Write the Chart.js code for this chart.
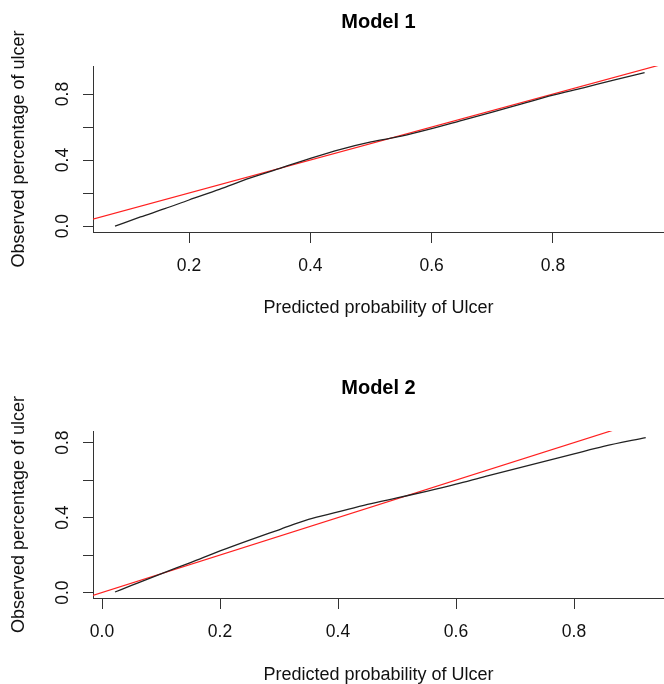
<!DOCTYPE html>
<html><head><meta charset="utf-8">
<script src="https://cdn.jsdelivr.net/npm/chart.js@4.4.0/dist/chart.umd.min.js"></script>
<style>html,body{margin:0;padding:0;background:#fff;overflow:hidden}canvas{display:block}</style>
</head><body>
<canvas id="c1" width="664" height="342"></canvas>
<canvas id="c2" width="664" height="342"></canvas>
<script>
// ---- data ----
const model1PredX = [0.078, 0.12, 0.16, 0.2, 0.25, 0.3, 0.35, 0.4, 0.45, 0.5, 0.55, 0.6, 0.65, 0.7, 0.75, 0.8, 0.85, 0.9, 0.951];
const model1ObsY  = [0.0, 0.055, 0.105, 0.158, 0.222, 0.29, 0.35, 0.41, 0.465, 0.51, 0.545, 0.59, 0.64, 0.69, 0.742, 0.793, 0.838, 0.885, 0.93];
const model2PredX = [0.022, 0.05, 0.1, 0.15, 0.2, 0.25, 0.3, 0.35, 0.4, 0.45, 0.5, 0.55, 0.6, 0.65, 0.7, 0.75, 0.8, 0.85, 0.9215];
const model2ObsY  = [0.003, 0.038, 0.1, 0.16, 0.222, 0.28, 0.335, 0.39, 0.43, 0.47, 0.505, 0.54, 0.578, 0.62, 0.66, 0.70, 0.74, 0.78, 0.827];
const refLineX = [-0.1, 1.1];   // ideal calibration line y = x
const refLineY = [-0.1, 1.1];
const model1XTicks = [0.2, 0.4, 0.6, 0.8];
const model1XTickLabels = ['0.2', '0.4', '0.6', '0.8'];
const model2XTicks = [0.0, 0.2, 0.4, 0.6, 0.8];
const model2XTickLabels = ['0.0', '0.2', '0.4', '0.6', '0.8'];
const yTicks = [0.0, 0.2, 0.4, 0.6, 0.8];
const yTickLabels = ['0.0', '', '0.4', '', '0.8'];
const chartTitles = ['Model 1', 'Model 2'];
const xAxisTitle = 'Predicted probability of Ulcer';
const yAxisTitle = 'Observed percentage of ulcer';

const FONT = "'Liberation Sans', Arial, sans-serif";
const AXIS_COLOR = '#333';

function pts(xs, ys) { return xs.map((x, i) => ({x: x, y: ys[i]})); }

function makeChart(id, p) {
  return new Chart(document.getElementById(id), {
    type: 'line',
    data: {
      datasets: [
        { data: pts(p.px, p.py), borderColor: '#222', borderWidth: 1.3, pointRadius: 0,
          cubicInterpolationMode: 'monotone', fill: false },
        { data: pts(refLineX, refLineY), borderColor: '#ff2020', borderWidth: 1.2, pointRadius: 0, fill: false }
      ]
    },
    options: {
      responsive: false, animation: false, events: [],
      layout: { padding: 0 },
      plugins: {
        legend: { display: false }, tooltip: { enabled: false },
        title: { display: true, text: p.title, fullSize: false, color: '#000',
          font: { family: FONT, size: 20, weight: 'bold', lineHeight: 1 },
          padding: p.titlePad }
      },
      scales: {
        x: {
          type: 'linear', min: p.xmin, max: p.xmax,
          afterFit: s => { s.height = p.xh; },
          afterBuildTicks: s => { s.ticks = p.xt.map(v => ({value: v})); },
          ticks: { color: '#111', padding: 13, font: { family: FONT, size: 17.5 },
            maxRotation: 0, autoSkip: false,
            callback: (v, i) => p.xl[i] },
          grid: { display: true, drawOnChartArea: false, drawTicks: true, tickLength: 11, color: AXIS_COLOR, lineWidth: 1 },
          border: { display: true, color: AXIS_COLOR, width: 1 },
          title: { display: true, text: xAxisTitle, color: '#111',
            font: { family: FONT, size: 18, lineHeight: 1 }, padding: { top: 0, bottom: p.xtPad } }
        },
        y: {
          type: 'linear', min: p.ymin, max: p.ymax,
          afterFit: s => { s.width = 93; },
          afterBuildTicks: s => { s.ticks = yTicks.map(v => ({value: v})); },
          ticks: { color: '#111', padding: 8, crossAlign: 'center', minRotation: 90, maxRotation: 90,
            font: { family: FONT, size: 17.5 }, autoSkip: false,
            callback: (v, i) => yTickLabels[i] },
          grid: { display: true, drawOnChartArea: false, drawTicks: true, tickLength: 10, color: AXIS_COLOR, lineWidth: 1 },
          border: { display: true, color: AXIS_COLOR, width: 1 },
          title: { display: true, text: yAxisTitle, color: '#111',
            font: { family: FONT, size: 18, lineHeight: 1 }, padding: { top: 10, bottom: 0 } }
        }
      }
    }
  });
}

makeChart('c1', { px: model1PredX, py: model1ObsY, title: chartTitles[0],
  titlePad: { top: 12, bottom: 34 }, xmin: 0.0417, xmax: 0.983, ymin: -0.036, ymax: 0.970,
  xh: 110, xtPad: 25, xt: model1XTicks, xl: model1XTickLabels });
makeChart('c2', { px: model2PredX, py: model2ObsY, title: chartTitles[1],
  titlePad: { top: 36, bottom: 33 }, xmin: -0.0153, xmax: 0.9525, ymin: -0.029, ymax: 0.862,
  xh: 86, xtPad: 0, xt: model2XTicks, xl: model2XTickLabels });
</script>
</body></html>
